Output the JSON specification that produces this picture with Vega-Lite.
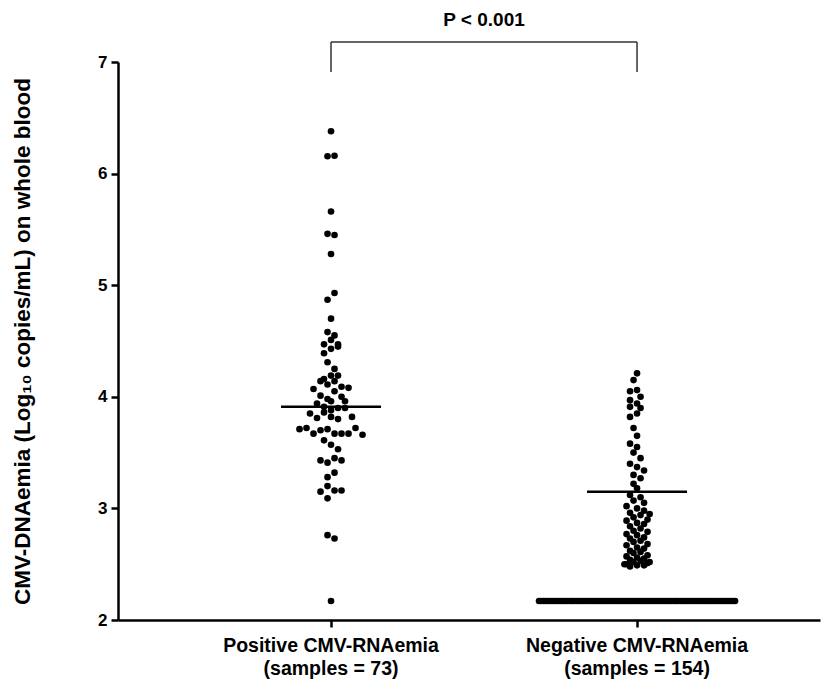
{
"$schema": "https://vega.github.io/schema/vega-lite/v6.json",
"width": 702, "height": 558,
"autosize": {"type": "none"},
"padding": {"left": 118, "top": 62, "right": 10, "bottom": 63},
"background": "white",
"config": {"view": {"stroke": null}, "font": "Liberation Sans"},
"datasets": {
"dots": [
{"g":"Positive","v":6.38,"j":0},{"g":"Positive","v":6.155,"j":-0.5},{"g":"Positive","v":6.16,"j":0.5},{"g":"Positive","v":5.66,"j":0},
{"g":"Positive","v":5.46,"j":-0.5},{"g":"Positive","v":5.45,"j":0.5},{"g":"Positive","v":5.28,"j":0},{"g":"Positive","v":4.93,"j":0.5},
{"g":"Positive","v":4.87,"j":-0.5},{"g":"Positive","v":4.70,"j":0},{"g":"Positive","v":4.58,"j":-0.5},{"g":"Positive","v":4.55,"j":0.5},
{"g":"Positive","v":4.51,"j":0},{"g":"Positive","v":4.47,"j":-1},{"g":"Positive","v":4.47,"j":1},{"g":"Positive","v":4.45,"j":1},
{"g":"Positive","v":4.43,"j":0},{"g":"Positive","v":4.39,"j":-1},{"g":"Positive","v":4.31,"j":-0.5},{"g":"Positive","v":4.25,"j":0.5},
{"g":"Positive","v":4.19,"j":0},{"g":"Positive","v":4.19,"j":1},{"g":"Positive","v":4.16,"j":-1},{"g":"Positive","v":4.14,"j":-1.5},
{"g":"Positive","v":4.14,"j":0.5},{"g":"Positive","v":4.11,"j":-0.5},{"g":"Positive","v":4.07,"j":-2.5},{"g":"Positive","v":4.09,"j":1.5},
{"g":"Positive","v":4.08,"j":2.5},{"g":"Positive","v":4.05,"j":0.5},{"g":"Positive","v":4.01,"j":-1.5},{"g":"Positive","v":3.98,"j":-0.5},
{"g":"Positive","v":4.00,"j":1.5},{"g":"Positive","v":3.96,"j":2},{"g":"Positive","v":3.94,"j":-2},{"g":"Positive","v":3.96,"j":0},
{"g":"Positive","v":3.91,"j":-1},{"g":"Positive","v":3.90,"j":1},{"g":"Positive","v":3.90,"j":2},{"g":"Positive","v":3.85,"j":-3},
{"g":"Positive","v":3.86,"j":-1},{"g":"Positive","v":3.81,"j":-2},{"g":"Positive","v":3.82,"j":0},{"g":"Positive","v":3.80,"j":1},
{"g":"Positive","v":3.82,"j":3},{"g":"Positive","v":3.71,"j":-4.5},{"g":"Positive","v":3.72,"j":-3.5},{"g":"Positive","v":3.70,"j":-1.5},
{"g":"Positive","v":3.71,"j":-0.5},{"g":"Positive","v":3.72,"j":3.5},{"g":"Positive","v":3.67,"j":-2.5},{"g":"Positive","v":3.67,"j":0.5},
{"g":"Positive","v":3.67,"j":1.5},{"g":"Positive","v":3.67,"j":2.5},{"g":"Positive","v":3.66,"j":4.5},{"g":"Positive","v":3.61,"j":-1},
{"g":"Positive","v":3.57,"j":0},{"g":"Positive","v":3.53,"j":1},{"g":"Positive","v":3.43,"j":-1.5},{"g":"Positive","v":3.41,"j":-0.5},
{"g":"Positive","v":3.45,"j":0.5},{"g":"Positive","v":3.43,"j":1.5},{"g":"Positive","v":3.32,"j":0.5},{"g":"Positive","v":3.28,"j":-0.5},
{"g":"Positive","v":3.20,"j":-0.5},{"g":"Positive","v":3.15,"j":-1.5},{"g":"Positive","v":3.16,"j":0.5},{"g":"Positive","v":3.16,"j":1.5},
{"g":"Positive","v":3.09,"j":-0.5},{"g":"Positive","v":2.76,"j":-0.5},{"g":"Positive","v":2.73,"j":0.5},{"g":"Positive","v":2.17,"j":0},
{"g":"Positive","v":3.88,"j":0},
{"g":"Negative","v":4.21,"j":0},{"g":"Negative","v":4.15,"j":-0.5},{"g":"Negative","v":4.06,"j":0},{"g":"Negative","v":4.05,"j":-1},
{"g":"Negative","v":4.00,"j":0.5},{"g":"Negative","v":3.97,"j":-1},{"g":"Negative","v":3.94,"j":0},{"g":"Negative","v":3.91,"j":-1},
{"g":"Negative","v":3.90,"j":0.5},{"g":"Negative","v":3.85,"j":0},{"g":"Negative","v":3.82,"j":-1},{"g":"Negative","v":3.72,"j":-0.5},
{"g":"Negative","v":3.65,"j":0},{"g":"Negative","v":3.58,"j":-1},{"g":"Negative","v":3.55,"j":0},{"g":"Negative","v":3.50,"j":-0.5},
{"g":"Negative","v":3.45,"j":0.5},{"g":"Negative","v":3.40,"j":-1},{"g":"Negative","v":3.37,"j":0},{"g":"Negative","v":3.34,"j":1},
{"g":"Negative","v":3.30,"j":-0.5},{"g":"Negative","v":3.27,"j":0.5},{"g":"Negative","v":3.22,"j":-0.5},{"g":"Negative","v":3.18,"j":0},
{"g":"Negative","v":3.12,"j":-1},{"g":"Negative","v":3.10,"j":0.5},{"g":"Negative","v":3.07,"j":-0.5},{"g":"Negative","v":3.05,"j":1},
{"g":"Negative","v":3.02,"j":-1.5},{"g":"Negative","v":3.00,"j":0},{"g":"Negative","v":2.98,"j":1},{"g":"Negative","v":2.96,"j":-1},
{"g":"Negative","v":2.94,"j":0.5},{"g":"Negative","v":2.92,"j":-0.5},{"g":"Negative","v":2.90,"j":1.5},{"g":"Negative","v":2.89,"j":-1.5},
{"g":"Negative","v":2.87,"j":0},{"g":"Negative","v":2.86,"j":1},{"g":"Negative","v":2.84,"j":-1},{"g":"Negative","v":2.82,"j":0.5},
{"g":"Negative","v":2.80,"j":-0.5},{"g":"Negative","v":2.79,"j":1.5},{"g":"Negative","v":2.77,"j":-1.5},{"g":"Negative","v":2.76,"j":0},
{"g":"Negative","v":2.74,"j":1},{"g":"Negative","v":2.73,"j":-1},{"g":"Negative","v":2.71,"j":0.5},{"g":"Negative","v":2.70,"j":-0.5},
{"g":"Negative","v":2.68,"j":1.5},{"g":"Negative","v":2.67,"j":-1.5},{"g":"Negative","v":2.65,"j":0},{"g":"Negative","v":2.64,"j":1},
{"g":"Negative","v":2.62,"j":-1},{"g":"Negative","v":2.61,"j":0.5},{"g":"Negative","v":2.60,"j":-0.5},{"g":"Negative","v":2.58,"j":1.5},
{"g":"Negative","v":2.57,"j":-1.5},{"g":"Negative","v":2.56,"j":0},{"g":"Negative","v":2.55,"j":1},{"g":"Negative","v":2.54,"j":-1},
{"g":"Negative","v":2.53,"j":0.5},{"g":"Negative","v":2.52,"j":-0.5},{"g":"Negative","v":2.51,"j":1.5},{"g":"Negative","v":2.50,"j":-1.5},
{"g":"Negative","v":2.49,"j":0},{"g":"Negative","v":2.49,"j":1},{"g":"Negative","v":2.48,"j":-1},{"g":"Negative","v":2.52,"j":1.8},
{"g":"Negative","v":2.50,"j":-1.8},{"g":"Negative","v":2.95,"j":1.8},
{"g":"Negative","v":2.17,"j":-14.0},{"g":"Negative","v":2.17,"j":-13.66},{"g":"Negative","v":2.17,"j":-13.33},{"g":"Negative","v":2.17,"j":-12.99},
{"g":"Negative","v":2.17,"j":-12.65},{"g":"Negative","v":2.17,"j":-12.31},{"g":"Negative","v":2.17,"j":-11.98},{"g":"Negative","v":2.17,"j":-11.64},
{"g":"Negative","v":2.17,"j":-11.3},{"g":"Negative","v":2.17,"j":-10.96},{"g":"Negative","v":2.17,"j":-10.63},{"g":"Negative","v":2.17,"j":-10.29},
{"g":"Negative","v":2.17,"j":-9.95},{"g":"Negative","v":2.17,"j":-9.61},{"g":"Negative","v":2.17,"j":-9.28},{"g":"Negative","v":2.17,"j":-8.94},
{"g":"Negative","v":2.17,"j":-8.6},{"g":"Negative","v":2.17,"j":-8.27},{"g":"Negative","v":2.17,"j":-7.93},{"g":"Negative","v":2.17,"j":-7.59},
{"g":"Negative","v":2.17,"j":-7.25},{"g":"Negative","v":2.17,"j":-6.92},{"g":"Negative","v":2.17,"j":-6.58},{"g":"Negative","v":2.17,"j":-6.24},
{"g":"Negative","v":2.17,"j":-5.9},{"g":"Negative","v":2.17,"j":-5.57},{"g":"Negative","v":2.17,"j":-5.23},{"g":"Negative","v":2.17,"j":-4.89},
{"g":"Negative","v":2.17,"j":-4.55},{"g":"Negative","v":2.17,"j":-4.22},{"g":"Negative","v":2.17,"j":-3.88},{"g":"Negative","v":2.17,"j":-3.54},
{"g":"Negative","v":2.17,"j":-3.2},{"g":"Negative","v":2.17,"j":-2.87},{"g":"Negative","v":2.17,"j":-2.53},{"g":"Negative","v":2.17,"j":-2.19},
{"g":"Negative","v":2.17,"j":-1.86},{"g":"Negative","v":2.17,"j":-1.52},{"g":"Negative","v":2.17,"j":-1.18},{"g":"Negative","v":2.17,"j":-0.84},
{"g":"Negative","v":2.17,"j":-0.51},{"g":"Negative","v":2.17,"j":-0.17},{"g":"Negative","v":2.17,"j":0.17},{"g":"Negative","v":2.17,"j":0.51},
{"g":"Negative","v":2.17,"j":0.84},{"g":"Negative","v":2.17,"j":1.18},{"g":"Negative","v":2.17,"j":1.52},{"g":"Negative","v":2.17,"j":1.86},
{"g":"Negative","v":2.17,"j":2.19},{"g":"Negative","v":2.17,"j":2.53},{"g":"Negative","v":2.17,"j":2.87},{"g":"Negative","v":2.17,"j":3.2},
{"g":"Negative","v":2.17,"j":3.54},{"g":"Negative","v":2.17,"j":3.88},{"g":"Negative","v":2.17,"j":4.22},{"g":"Negative","v":2.17,"j":4.55},
{"g":"Negative","v":2.17,"j":4.89},{"g":"Negative","v":2.17,"j":5.23},{"g":"Negative","v":2.17,"j":5.57},{"g":"Negative","v":2.17,"j":5.9},
{"g":"Negative","v":2.17,"j":6.24},{"g":"Negative","v":2.17,"j":6.58},{"g":"Negative","v":2.17,"j":6.92},{"g":"Negative","v":2.17,"j":7.25},
{"g":"Negative","v":2.17,"j":7.59},{"g":"Negative","v":2.17,"j":7.93},{"g":"Negative","v":2.17,"j":8.27},{"g":"Negative","v":2.17,"j":8.6},
{"g":"Negative","v":2.17,"j":8.94},{"g":"Negative","v":2.17,"j":9.28},{"g":"Negative","v":2.17,"j":9.61},{"g":"Negative","v":2.17,"j":9.95},
{"g":"Negative","v":2.17,"j":10.29},{"g":"Negative","v":2.17,"j":10.63},{"g":"Negative","v":2.17,"j":10.96},{"g":"Negative","v":2.17,"j":11.3},
{"g":"Negative","v":2.17,"j":11.64},{"g":"Negative","v":2.17,"j":11.98},{"g":"Negative","v":2.17,"j":12.31},{"g":"Negative","v":2.17,"j":12.65},
{"g":"Negative","v":2.17,"j":12.99},{"g":"Negative","v":2.17,"j":13.33},{"g":"Negative","v":2.17,"j":13.66},{"g":"Negative","v":2.17,"j":14.0}
],
"medians": [{"g":"Positive","v":3.91},{"g":"Negative","v":3.15}],
"ends": [{"g":"Positive","v1":6.91,"v2":7.18},{"g":"Negative","v1":6.91,"v2":7.18}],
"bar": [{"g1":"Positive","g2":"Negative","v":7.18}],
"ptext": [{"g":"Positive","v":7.375,"t":"P < 0.001"}]
},
"layer": [
{
"data": {"name": "dots"},
"mark": {"type": "circle", "size": 44, "color": "black", "opacity": 1},
"encoding": {
"x": {"field": "g", "type": "nominal", "sort": ["Positive", "Negative"],
 "scale": {"domain": ["Positive", "Negative"], "paddingInner": 0, "paddingOuter": 0.147, "align": 0.667},
 "axis": {"title": null, "labelAngle": 0, "bandPosition": 0.5, "domainColor": "black", "domainWidth": 2.5, "tickColor": "black", "tickWidth": 2.5, "tickSize": 7,
  "labelFont": "Liberation Sans", "labelFontSize": 19.5, "labelFontWeight": "bold", "labelColor": "black", "labelPadding": 9, "labelLineHeight": 23, "labelLimit": 0,
  "labelExpr": "datum.value == 'Positive' ? ['Positive CMV-RNAemia', '(samples = 73)'] : ['Negative CMV-RNAemia', '(samples = 154)']"}},
"xOffset": {"field": "j", "type": "quantitative", "scale": {"domain": [-21.857, 21.857]}},
"y": {"field": "v", "type": "quantitative", "scale": {"domain": [2, 7], "nice": false, "zero": false},
 "axis": {"title": "CMV-DNAemia (Log₁₀ copies/mL) on whole blood", "values": [2, 3, 4, 5, 6, 7], "format": "d", "grid": false,
  "domainColor": "black", "domainWidth": 2.5, "tickColor": "black", "tickWidth": 2.5, "tickSize": 7,
  "labelFontSize": 17, "labelFontWeight": "bold", "labelColor": "black", "labelPadding": 4,
  "titleFontSize": 22.5, "titleFontWeight": "bold", "titleColor": "black", "titlePadding": 63}}
}
},
{
"data": {"name": "medians"},
"mark": {"type": "tick", "size": 100, "thickness": 2.5, "color": "black", "opacity": 1, "orient": "horizontal"},
"encoding": {
"x": {"field": "g", "type": "nominal"},
"y": {"field": "v", "type": "quantitative"}
}
},
{
"data": {"name": "ends"},
"mark": {"type": "rule", "strokeWidth": 1.5, "color": "#333333"},
"encoding": {
"x": {"field": "g", "type": "nominal"},
"y": {"field": "v1", "type": "quantitative"},
"y2": {"field": "v2"}
}
},
{
"data": {"name": "bar"},
"mark": {"type": "rule", "strokeWidth": 1.5, "color": "#333333"},
"encoding": {
"x": {"field": "g1", "type": "nominal"},
"x2": {"field": "g2"},
"y": {"field": "v", "type": "quantitative"}
}
},
{
"data": {"name": "ptext"},
"mark": {"type": "text", "fontSize": 19, "fontWeight": "bold", "color": "black", "align": "center", "baseline": "middle"},
"encoding": {
"x": {"field": "g", "type": "nominal", "bandPosition": 1},
"y": {"field": "v", "type": "quantitative"},
"text": {"field": "t"}
}
}
]
}
